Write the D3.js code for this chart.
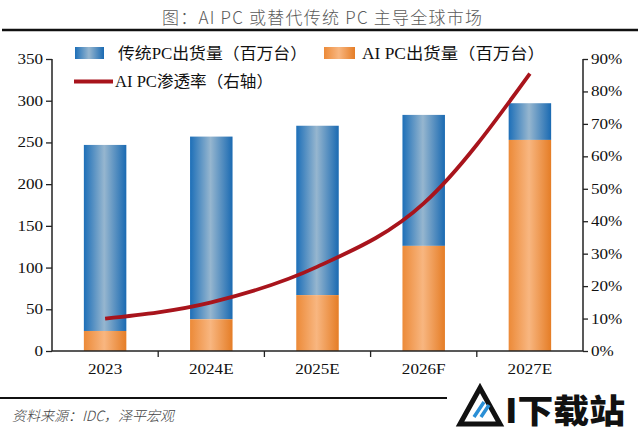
<!DOCTYPE html>
<html><head><meta charset="utf-8">
<script src="https://cdn.jsdelivr.net/npm/d3@7/dist/d3.min.js"></script>
<style>
html,body{margin:0;padding:0;background:#fff;}
svg{display:block;}
</style></head>
<body><svg id="c" width="640" height="433"></svg>
<script>
const categories = ["2023","2024E","2025E","2026F","2027E"];
const traditionalTotal = [247, 257, 270, 283, 297]; // top of stacked bar (传统+AI)
const aiPC = [24, 38, 67, 126, 253];
const penetration = [0.10, 0.15, 0.26, 0.455, 0.855];
const leftTicks = [0,50,100,150,200,250,300,350];
const rightTicks = [0,0.1,0.2,0.3,0.4,0.5,0.6,0.7,0.8,0.9];
const titleText = "图：AI PC 或替代传统 PC 主导全球市场";
const legendLabels = ["传统PC出货量（百万台）","AI PC出货量（百万台）","AI PC渗透率（右轴）"];
const sourceText = "资料来源：IDC，泽平宏观";

const svg = d3.select("#c");
const serif = "'Liberation Serif','Noto Sans CJK SC',serif";
const L = 52, R = 583, T = 59, B = 351;

const defs = svg.append("defs");
function grad(id, edge, mid, edge2){
  const g = defs.append("linearGradient").attr("id",id).attr("x1","0").attr("x2","1").attr("y1","0").attr("y2","0");
  g.append("stop").attr("offset","0%").attr("stop-color",edge);
  g.append("stop").attr("offset","48%").attr("stop-color",mid);
  g.append("stop").attr("offset","100%").attr("stop-color",edge2);
}
grad("gb","#1d6fb8","#96b6cf","#1a6ab2");
grad("go","#ec8a38","#f8b680","#e57d26");

// title
svg.append("text").attr("x",322).attr("y",24).attr("text-anchor","middle")
  .attr("font-family","'Noto Sans CJK SC',sans-serif").attr("font-weight",300)
  .attr("font-size",17).attr("fill","#5a5a5a").attr("textLength",320).attr("lengthAdjust","spacing")
  .text(titleText);
svg.append("line").attr("x1",2).attr("x2",638).attr("y1",30).attr("y2",30).attr("stroke","#111").attr("stroke-width",2.5);

const x = d3.scaleBand().domain(categories).range([L,R]).padding(0);
const y = d3.scaleLinear().domain([0,350]).range([B,T]);
const y2 = d3.scaleLinear().domain([0,0.9]).range([B,T]);
const bw = x.bandwidth()*0.4;
const cx = d => x(d) + x.bandwidth()/2;

// bars
const g = svg.append("g");
g.selectAll("rect.t").data(categories).join("rect").attr("class","t")
  .attr("x",d=>cx(d)-bw/2).attr("width",bw)
  .attr("y",(d,i)=>y(traditionalTotal[i])).attr("height",(d,i)=>y(aiPC[i])-y(traditionalTotal[i]))
  .attr("fill","url(#gb)");
g.selectAll("rect.a").data(categories).join("rect").attr("class","a")
  .attr("x",d=>cx(d)-bw/2).attr("width",bw)
  .attr("y",(d,i)=>y(aiPC[i])).attr("height",(d,i)=>B-y(aiPC[i]))
  .attr("fill","url(#go)");

// line
const line = d3.line().x((d,i)=>cx(categories[i])).y(d=>y2(d)).curve(d3.curveMonotoneX);
svg.append("path").attr("d",line(penetration)).attr("fill","none").attr("stroke","#a8141c").attr("stroke-width",3.8).attr("stroke-linecap","butt");

function stretch(sel, f){ sel.each(function(){ const w=this.getComputedTextLength(); this.setAttribute("textLength", w*f); this.setAttribute("lengthAdjust","spacingAndGlyphs"); }); }

// axes
const axL = svg.append("g").attr("transform",`translate(${L},0)`).call(d3.axisLeft(y).tickValues(leftTicks).tickSize(6).tickPadding(3));
const axR = svg.append("g").attr("transform",`translate(${R},0)`).call(d3.axisRight(y2).tickValues(rightTicks).tickFormat(d3.format(".0%")).tickSize(5).tickPadding(3));
const axB = svg.append("g").attr("transform",`translate(0,${B})`).call(d3.axisBottom(x).tickSize(0).tickPadding(13));
[axL,axR,axB].forEach(a=>{
  a.select(".domain").attr("stroke","#222").attr("stroke-width",1.5);
  a.selectAll(".tick line").attr("stroke","#222").attr("stroke-width",1.3);
  a.selectAll("text").attr("font-family",serif).attr("font-size",14).attr("fill","#111");
});
axL.select(".domain").attr("d",`M-0,${T}V${B}`);
axR.select(".domain").attr("d",`M0,${T}V${B}`);
axB.select(".domain").attr("d",`M${L},0H${R}`);
// category boundary ticks
axB.selectAll("line.sep").data(categories.slice(1)).join("line").attr("class","sep")
  .attr("x1",d=>x(d)).attr("x2",d=>x(d)).attr("y1",0).attr("y2",6).attr("stroke","#222").attr("stroke-width",1.3);
stretch(axL.selectAll("text"),1.22);
stretch(axR.selectAll("text"),1.22);
stretch(axB.selectAll("text"),1.22);

// legend
const lg = svg.append("g").attr("font-family",serif).attr("font-size",16).attr("fill","#111");
lg.append("rect").attr("x",75).attr("y",47).attr("width",29).attr("height",12).attr("fill","url(#gb)");
lg.append("text").attr("x",118).attr("y",58.5).attr("textLength",189).attr("lengthAdjust","spacingAndGlyphs").text(legendLabels[0]);
lg.append("rect").attr("x",324).attr("y",47).attr("width",31).attr("height",12).attr("fill","url(#go)");
lg.append("text").attr("x",362).attr("y",58.5).attr("textLength",183).attr("lengthAdjust","spacingAndGlyphs").text(legendLabels[1]);
lg.append("line").attr("x1",74).attr("x2",113).attr("y1",81.5).attr("y2",81.5).attr("stroke","#a8141c").attr("stroke-width",3.8);
lg.append("text").attr("x",115).attr("y",87).attr("textLength",158).attr("lengthAdjust","spacingAndGlyphs").text(legendLabels[2]);

// footer
svg.append("line").attr("x1",0).attr("x2",447).attr("y1",398).attr("y2",398).attr("stroke","#111").attr("stroke-width",2);
svg.append("text").attr("x",12).attr("y",421).attr("font-family","'Noto Sans CJK SC',sans-serif").attr("font-weight",300)
  .attr("font-style","italic").attr("font-size",14).attr("fill","#444").text(sourceText);

// watermark
const wm = svg.append("g");
wm.append("rect").attr("x",452).attr("y",383).attr("width",188).attr("height",50).attr("fill","#fff");
wm.append("path").attr("d","M480,388 L500,424 L460,424 Z").attr("fill","none").attr("stroke","#111").attr("stroke-width",5).attr("stroke-linejoin","miter");
wm.append("path").attr("d","M474,417 L484,402 M481,417 L489,405").attr("stroke","#2a8fd6").attr("stroke-width",3.5);
wm.append("text").attr("x",505).attr("y",423).attr("font-family","'Noto Sans CJK SC',sans-serif").attr("font-weight",900)
  .attr("font-size",33).attr("fill","#111").attr("textLength",120).attr("lengthAdjust","spacingAndGlyphs").text("I下载站");
</script></body></html>
